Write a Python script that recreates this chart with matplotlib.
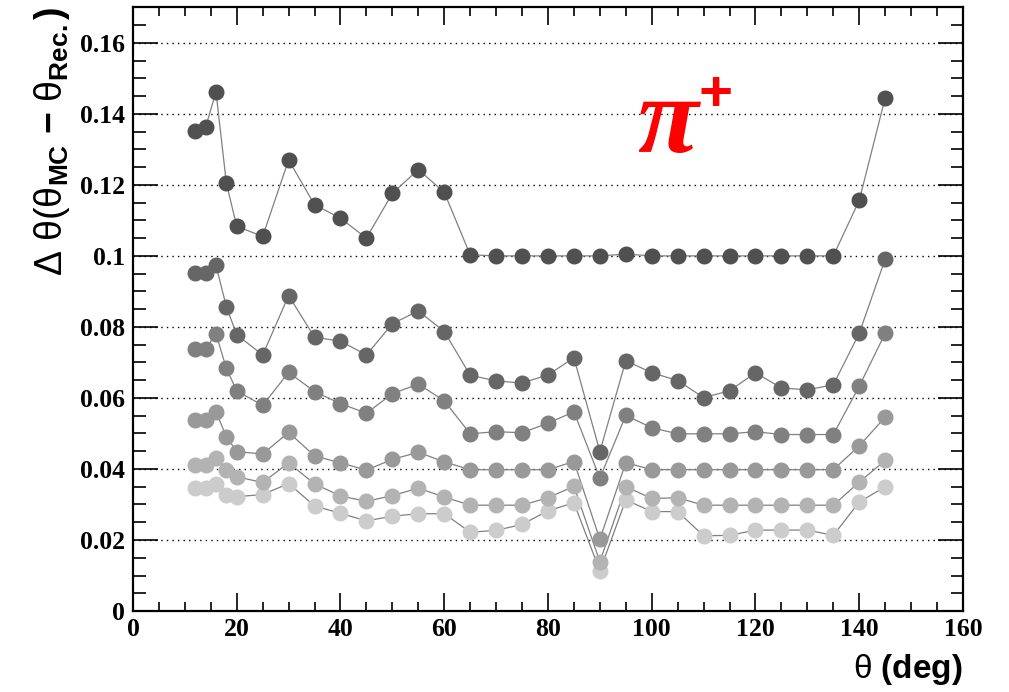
import matplotlib
matplotlib.use("Agg")
import matplotlib.pyplot as plt
from matplotlib.ticker import MultipleLocator, FormatStrFormatter

theta = [12, 14, 16, 18, 20, 25, 30, 35, 40, 45, 50, 55, 60, 65, 70, 75, 80, 85,
         90, 95, 100, 105, 110, 115, 120, 125, 130, 135, 140, 145]

s1 = [0.1352, 0.1362, 0.1462, 0.1205, 0.1083, 0.1055, 0.1270, 0.1144, 0.1106, 0.1050,
      0.1176, 0.1243, 0.1179, 0.1003, 0.1000, 0.1000, 0.1000, 0.1000, 0.1000, 0.1005,
      0.1000, 0.1000, 0.1000, 0.1000, 0.1000, 0.1000, 0.1000, 0.1000, 0.1156, 0.1445]
s2 = [0.0952, 0.0952, 0.0973, 0.0857, 0.0778, 0.0721, 0.0888, 0.0771, 0.0760, 0.0721,
      0.0809, 0.0845, 0.0787, 0.0664, 0.0648, 0.0642, 0.0665, 0.0713, 0.0449, 0.0705,
      0.0671, 0.0649, 0.0601, 0.0620, 0.0671, 0.0628, 0.0623, 0.0637, 0.0782, 0.0991]
s3 = [0.0738, 0.0738, 0.0781, 0.0683, 0.0620, 0.0579, 0.0672, 0.0618, 0.0584, 0.0557,
      0.0612, 0.0639, 0.0592, 0.0499, 0.0505, 0.0502, 0.0529, 0.0561, 0.0374, 0.0551,
      0.0516, 0.0499, 0.0499, 0.0499, 0.0505, 0.0497, 0.0497, 0.0497, 0.0633, 0.0782]
s4 = [0.0537, 0.0537, 0.0561, 0.0491, 0.0449, 0.0442, 0.0503, 0.0437, 0.0417, 0.0397,
      0.0427, 0.0447, 0.0420, 0.0398, 0.0398, 0.0398, 0.0398, 0.0421, 0.0202, 0.0418,
      0.0398, 0.0398, 0.0398, 0.0398, 0.0398, 0.0398, 0.0398, 0.0398, 0.0465, 0.0546]
s5 = [0.0410, 0.0410, 0.0431, 0.0396, 0.0378, 0.0362, 0.0417, 0.0358, 0.0324, 0.0309,
      0.0325, 0.0346, 0.0321, 0.0298, 0.0298, 0.0298, 0.0319, 0.0351, 0.0139, 0.0350,
      0.0317, 0.0319, 0.0298, 0.0298, 0.0298, 0.0298, 0.0298, 0.0298, 0.0363, 0.0424]
s6 = [0.0347, 0.0347, 0.0357, 0.0328, 0.0322, 0.0328, 0.0359, 0.0296, 0.0275, 0.0254,
      0.0267, 0.0274, 0.0274, 0.0222, 0.0227, 0.0244, 0.0282, 0.0305, 0.0113, 0.0313,
      0.0280, 0.0280, 0.0212, 0.0213, 0.0228, 0.0228, 0.0228, 0.0213, 0.0307, 0.0350]

series = [s6, s5, s4, s3, s2, s1]
colors = ["#cccccc", "#b3b3b3", "#999999", "#808080", "#666666", "#505050"]

plt.rcParams["mathtext.fontset"] = "custom"
plt.rcParams["mathtext.rm"] = "Liberation Sans"
plt.rcParams["mathtext.bf"] = "Liberation Sans:bold"
plt.rcParams["mathtext.it"] = "Liberation Sans:italic"

fig = plt.figure(figsize=(10.09, 6.92), dpi=100)
ax = fig.add_axes([0.1318, 0.117, 0.8226, 0.873])

for ys, c in zip(series, colors):
    ax.plot(theta, ys, color="#808080", lw=0.9, zorder=2)
    ax.plot(theta, ys, ls="none", marker="o", ms=10.5, mfc=c, mec=c, zorder=3)

ax.set_xlim(0, 160)
ax.set_ylim(0, 0.1701)
ax.xaxis.set_major_locator(MultipleLocator(20))
ax.xaxis.set_minor_locator(MultipleLocator(5))
ax.yaxis.set_major_locator(MultipleLocator(0.02))
ax.yaxis.set_minor_locator(MultipleLocator(0.005))
ax.yaxis.set_major_formatter(FormatStrFormatter("%g"))

for y in [0.02, 0.04, 0.06, 0.08, 0.10, 0.12, 0.14, 0.16]:
    ax.axhline(y, color="black", lw=1.0, ls=(0, (1, 3)), zorder=1)

ax.tick_params(which="both", direction="in", top=True, right=True, width=1.2)
ax.tick_params(axis="x", which="major", length=13)
ax.tick_params(axis="x", which="minor", length=6.5)
ax.tick_params(axis="y", which="major", length=18)
ax.tick_params(axis="y", which="minor", length=9)
for sp in ax.spines.values():
    sp.set_linewidth(1.6)

for lbl in ax.get_xticklabels() + ax.get_yticklabels():
    lbl.set_fontfamily("Liberation Serif")
    lbl.set_fontweight("bold")
    lbl.set_fontsize(18.5)
ax.tick_params(axis="x", pad=5)
ax.tick_params(axis="y", pad=6)

fig.text(0.052, 0.99,
         r"$\Delta\ \mathrm{\theta}(\mathrm{\theta}_{\mathbf{MC}}\ \mathbf{-}\ \mathrm{\theta}_{\mathbf{Rec.}}\mathbf{)}$",
         rotation=90, ha="center", va="top", fontsize=27)
fig.text(0.9544, 0.032, r"$\mathrm{\theta}\ \mathbf{(deg)}$", ha="right", va="center", fontsize=24)

fig.text(0.662, 0.819, "\u03c0", color="red",
         fontsize=80, ha="center", va="center", family="Liberation Serif", style="italic",
         fontweight="bold")
fig.text(0.7095, 0.861, "+", color="red", fontsize=42, fontweight="bold",
         ha="center", va="center", family="Liberation Sans")

fig.savefig("out.png", dpi=100)
